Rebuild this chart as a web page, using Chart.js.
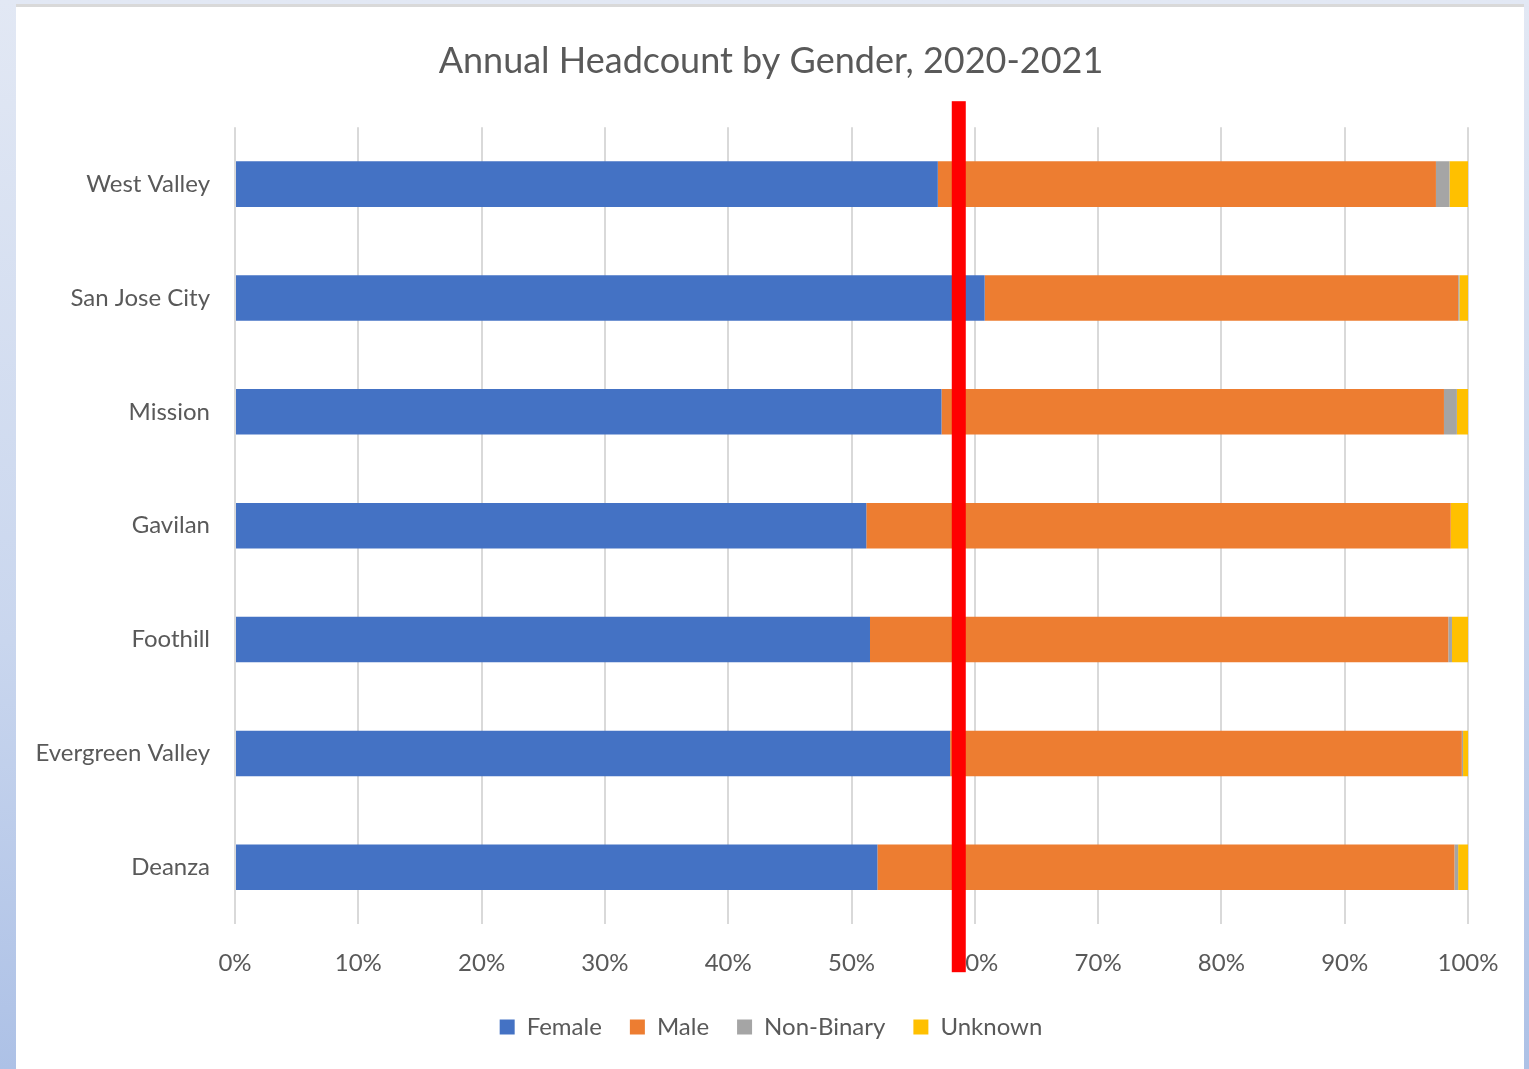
<!DOCTYPE html>
<html>
<head>
<meta charset="utf-8">
<script src="https://cdn.jsdelivr.net/npm/chart.js@4.4.0/dist/chart.umd.min.js"></script>
<style>
  html, body { margin: 0; padding: 0; }
  body {
    width: 1529px; height: 1069px; overflow: hidden; position: relative;
    background: linear-gradient(to bottom, #e2e8f4 0%, #c9d6ee 60%, #adc1e6 100%);
  }
  #frame {
    position: absolute; left: 16px; top: 4px; width: 1508px; height: 1070px;
    background: #fff; border-top: 3px solid #d9d9d9;
  }
  #wrap { position: absolute; left: 0; top: 0; width: 1542px; height: 1069px; }
</style>
</head>
<body>
<div id="frame"></div>
<div id="wrap"><canvas id="chart"></canvas></div>
<script>
// Data (percent of headcount)
var colleges = ['West Valley', 'San Jose City', 'Mission', 'Gavilan', 'Foothill', 'Evergreen Valley', 'Deanza'];
var female    = [57.0, 60.8, 57.3, 51.2, 51.5, 58.0, 52.1];
var male      = [40.4, 38.4, 40.75, 47.4, 46.9, 41.5, 46.8];
var nonBinary = [1.1, 0.1, 1.05, 0.0, 0.3, 0.1, 0.3];
var unknown   = [1.5, 0.7, 0.9, 1.4, 1.3, 0.4, 0.8];
var xTicks = [0, 10, 20, 30, 40, 50, 60, 70, 80, 90, 100];
var markerValue = 58.7; // red reference line

var FONT = 'Lato, "Open Sans", sans-serif';
var GREY = '#595959';

// red vertical reference line
var refLine = {
    id: 'refLine',
    afterDatasetsDraw: function(chart) {
        var ctx = chart.ctx, area = chart.chartArea;
        var x = chart.scales.x.getPixelForValue(markerValue);
        ctx.save();
        ctx.fillStyle = '#ff0000';
        ctx.fillRect(x - 7, area.top - 26, 14, area.bottom - area.top + 74);
        ctx.restore();
    }
};

new Chart(document.getElementById('chart'), {
    type: 'bar',
    data: {
        labels: colleges,
        datasets: [
            { label: 'Female', data: female, backgroundColor: '#4472C4' },
            { label: 'Male', data: male, backgroundColor: '#ED7D31' },
            { label: 'Non-Binary', data: nonBinary, backgroundColor: '#A5A5A5' },
            { label: 'Unknown', data: unknown, backgroundColor: '#FFC000' }
        ]
    },
    options: {
        indexAxis: 'y',
        responsive: true,
        maintainAspectRatio: false,
        animation: false,
        layout: { padding: { left: 0, right: 0, top: 40, bottom: 20 } },
        datasets: { bar: { categoryPercentage: 1.0, barPercentage: 0.4 } },
        plugins: {
            title: {
                display: true,
                text: 'Annual Headcount by Gender, 2020-2021',
                color: GREY,
                font: { family: FONT, size: 36, weight: 'normal' },
                padding: { top: 0, bottom: 44 }
            },
            legend: {
                position: 'bottom',
                labels: {
                    color: GREY,
                    font: { family: FONT, size: 24 },
                    boxWidth: 15, boxHeight: 15,
                    padding: 28,
                    useBorderRadius: false
                }
            },
            tooltip: { enabled: false }
        },
        scales: {
            x: {
                stacked: true,
                min: 0, max: 100,
                afterBuildTicks: function(s) { s.ticks = xTicks.map(function(v) { return { value: v }; }); },
                afterFit: function(s) { s.height -= 16; },
                ticks: {
                    color: GREY,
                    font: { family: FONT, size: 24 },
                    padding: 25,
                    callback: function(v) { return v + '%'; }
                },
                grid: { color: '#d9d9d9', lineWidth: 2, drawTicks: false },
                border: { display: false }
            },
            y: {
                stacked: true,
                afterFit: function(s) { s.width = 235; },
                ticks: {
                    color: GREY,
                    font: { family: FONT, size: 24 },
                    padding: 17
                },
                grid: { display: false },
                border: { display: false }
            },
            // empty spacer on the right so title/legend centre like the original
            spacer: {
                axis: 'y',
                type: 'category',
                labels: colleges,
                position: 'right',
                afterFit: function(s) { s.width = 74; },
                ticks: { display: false },
                grid: { display: false },
                border: { display: false }
            }
        }
    },
    plugins: [refLine]
});
</script>
</body>
</html>
